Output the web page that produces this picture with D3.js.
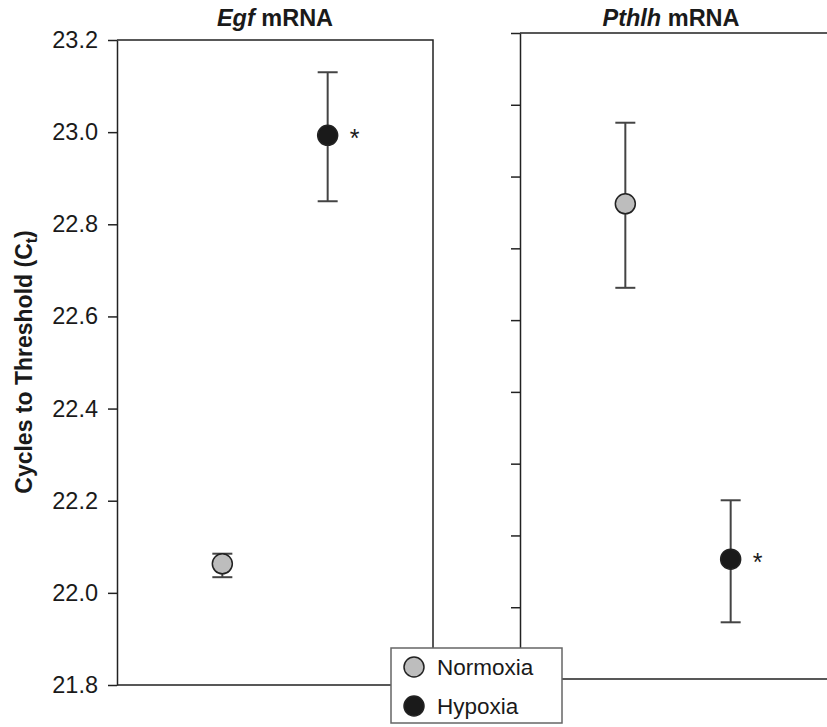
<!DOCTYPE html>
<html>
<head>
<meta charset="utf-8">
<script src="https://cdn.jsdelivr.net/npm/d3@7"></script>
<style>
  body { margin: 0; background: #fff; }
  svg { display: block; }
  text { font-family: "Liberation Sans", Arial, Helvetica, sans-serif; fill: #1a1a1a; }
</style>
</head>
<body>
<svg id="chart" width="827" height="727"></svg>
<script>
// data
const conditions = ['Normoxia', 'Hypoxia']
const colorsFill = ['#bdbdbd', '#1a1a1a']

const egfMean = [22.063, 22.993]
const egfLow  = [22.034, 22.850]
const egfHigh = [22.085, 23.130]
const egfSig  = [false, true]
const egfTicks = [21.8, 22.0, 22.2, 22.4, 22.6, 22.8, 23.0, 23.2]

// right panel has unlabeled ticks (0.1 steps assumed)
const pthlhMean = [25.662, 25.167]
const pthlhLow  = [25.545, 25.079]
const pthlhHigh = [25.775, 25.249]
const pthlhSig  = [false, true]
const pthlhTicks = [25.0, 25.1, 25.2, 25.3, 25.4, 25.5, 25.6, 25.7, 25.8, 25.9]

const svg = d3.select('#chart')

let panels = [
  { title: 'Egf', x0: 117, x1: 433, top: 40, bottom: 685, domain: [21.8, 23.2],
    ticks: egfTicks, labels: true, mean: egfMean, low: egfLow, high: egfHigh, sig: egfSig },
  { title: 'Pthlh', x0: 520, x1: 836, top: 33, bottom: 679, domain: [25.0, 25.9],
    ticks: pthlhTicks, labels: false, mean: pthlhMean, low: pthlhLow, high: pthlhHigh, sig: pthlhSig }
]

panels.forEach(p => {
  let w = p.x1 - p.x0
  let y = d3.scaleLinear().domain(p.domain).range([p.bottom, p.top])
  let x = d3.scalePoint().domain(conditions).range([0, w]).padding(1)

  let g = svg.append('g').attr('transform', `translate(${p.x0},0)`)

  // frame: top, right, bottom
  g.append('path')
    .attr('d', `M0,${p.top}H${w}V${p.bottom}H0`)
    .attr('fill', 'none')
    .attr('stroke', '#222')
    .attr('stroke-width', 1.5)

  let axis = d3.axisLeft(y)
    .tickValues(p.ticks)
    .tickSize(9)
    .tickSizeOuter(0)
    .tickPadding(10)
    .tickFormat(p.labels ? d3.format('.1f') : '')

  let ax = g.append('g').call(axis)
  ax.select('.domain').attr('stroke', '#222').attr('stroke-width', 1.5)
  ax.selectAll('.tick line').attr('stroke', '#222').attr('stroke-width', 1.5)
  ax.selectAll('.tick text')
    .attr('font-size', 23.5)
    .attr('font-family', '"Liberation Sans", Arial, sans-serif')
    .attr('fill', '#1a1a1a')

  // title
  let t = svg.append('text')
    .attr('x', p.x0 + w / 2 + (p.labels ? 0 : -7))
    .attr('y', 26)
    .attr('text-anchor', 'middle')
    .attr('font-size', 23.5)
    .attr('font-weight', 'bold')
  t.append('tspan').attr('font-style', 'italic').text(p.title)
  t.append('tspan').text(' mRNA')

  let pts = conditions.map((c, i) => ({ c, i, m: p.mean[i], lo: p.low[i], hi: p.high[i], sig: p.sig[i] }))

  let pt = g.selectAll('.pt')
    .data(pts)
    .enter().append('g')
      .attr('class', 'pt')
      .attr('transform', d => `translate(${x(d.c)},0)`)

  pt.append('line')
    .attr('y1', d => y(d.lo))
    .attr('y2', d => y(d.hi))
    .attr('stroke', '#444')
    .attr('stroke-width', 2)

  pt.selectAll('.cap')
    .data(d => [d.lo, d.hi])
    .enter().append('line')
      .attr('x1', -10).attr('x2', 10)
      .attr('y1', v => y(v)).attr('y2', v => y(v))
      .attr('stroke', '#444')
      .attr('stroke-width', 2)

  pt.append('circle')
    .attr('cy', d => y(d.m))
    .attr('r', 10)
    .attr('fill', d => colorsFill[d.i])
    .attr('stroke', '#222')
    .attr('stroke-width', 1.5)

  pt.filter(d => d.sig).append('text')
    .attr('x', 27)
    .attr('y', d => y(d.m) + 12)
    .attr('text-anchor', 'middle')
    .attr('font-size', 25)
    .text('*')
})

// y axis title
let yl = svg.append('text')
  .attr('transform', 'translate(32,362) rotate(-90)')
  .attr('text-anchor', 'middle')
  .attr('font-size', 23)
  .attr('font-weight', 'bold')
yl.append('tspan').text('Cycles to Threshold (C')
yl.append('tspan').attr('font-size', 16).attr('dy', 5).text('t')
yl.append('tspan').attr('dy', -5).text(')')

// legend
let lg = svg.append('g').attr('transform', 'translate(391,648)')
lg.append('rect')
  .attr('width', 171)
  .attr('height', 75)
  .attr('fill', '#fff')
  .attr('stroke', '#666')
  .attr('stroke-width', 1.5)

let item = lg.selectAll('.item')
  .data(conditions)
  .enter().append('g')
    .attr('class', 'item')
    .attr('transform', (d, i) => `translate(0,${19 + i * 39})`)

item.append('circle')
  .attr('cx', 23)
  .attr('r', 10)
  .attr('fill', (d, i) => colorsFill[i])
  .attr('stroke', '#222')
  .attr('stroke-width', 1.5)

item.append('text')
  .attr('x', 46)
  .attr('y', 8)
  .attr('font-size', 22.5)
  .text(d => d)
</script>
</body>
</html>
